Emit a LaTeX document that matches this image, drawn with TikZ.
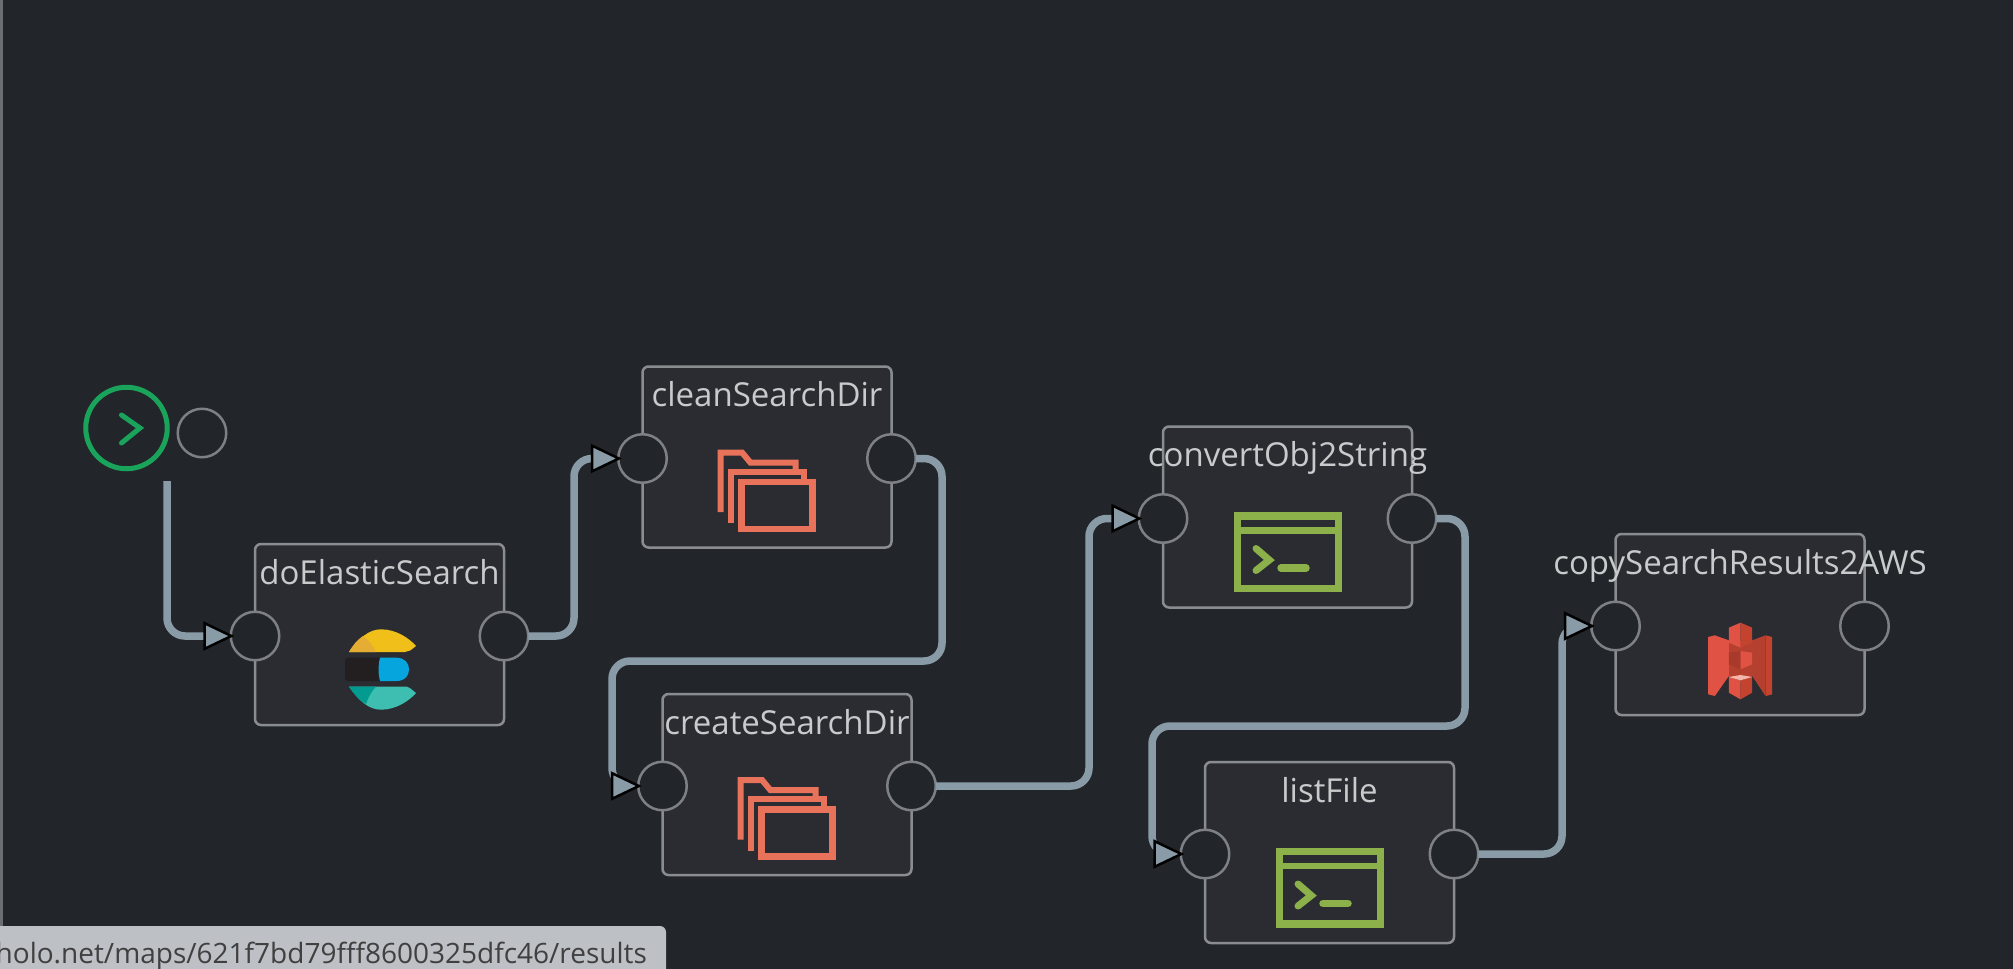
\documentclass[tikz,border=0pt]{standalone}
\usepackage{fontspec}
\setmainfont{Open Sans}
\usetikzlibrary{arrows.meta, positioning}
\definecolor{bgcol}{HTML}{22262A}
\definecolor{boxcol}{HTML}{2A2C32}
\definecolor{linecol}{HTML}{8A8D90}
\definecolor{portcol}{HTML}{7D8084}
\definecolor{wirecol}{HTML}{8A9BA8}
\definecolor{textcol}{HTML}{C8CBCC}
\definecolor{startcol}{HTML}{1AA35B}
\definecolor{foldercol}{HTML}{E8735A}
\definecolor{termcol}{HTML}{8CB04A}
\definecolor{barcol}{HTML}{BDC0C5}
\tikzset{
taskbox/.style={draw=linecol, fill=boxcol, line width=2.5pt, rounded corners=6pt, minimum width=249pt, minimum height=181pt, inner sep=0pt, outer sep=0pt}, % the big rectangles
tasklabel/.style={text=textcol, font=\fontsize{33}{36}\selectfont, text height=24pt, text depth=7pt, inner sep=0pt},
port/.style={circle, draw=portcol, fill=bgcol, line width=2.5pt, minimum size=48.5pt, inner sep=0pt, outer sep=0pt},
wire/.style={draw=wirecol, line width=7.5pt, rounded corners=18pt, shorten >=-3.5pt, -{Triangle[length=31pt, width=29pt, fill=wirecol, color=black, line width=2.5pt]}},
folderstack/.pic={
    \draw[foldercol, line width=6pt] (20,81) -- (20,21.7) -- (41.7,21.7) -- (50,31.7) -- (95,31.7) -- (95,39);
    \draw[foldercol, line width=6pt] (30,92) -- (30,40.7) -- (103,40.7) -- (103,48);
    \draw[foldercol, line width=6.5pt] (41,51) rectangle (112,98);
},
termwin/.pic={
    \draw[termcol, line width=7.5pt] (0,0) rectangle (101,72.5);
    \draw[termcol, line width=6.5pt] (0,14.3) -- (101,14.3);
    \draw[termcol, line width=7pt, line cap=round] (18.5,32.5) -- (31.8,44) -- (18.5,54.5);
    \draw[termcol, line width=7.5pt, line cap=round] (43.5,52) -- (68.5,52);
},
elasticlogo/.pic={
    \fill[HTML=F0BF1A] (28,41) .. controls (38,27) and (48,18.3) .. (60,18.3) .. controls (75,18.3) and (88,27) .. (95,35) .. controls (90,39) and (88,41) .. (84,41) -- cycle;
    \fill[HTML=E5AD33] (28,41) .. controls (32,34) and (36,29) .. (42,25) .. controls (48,29) and (52,35) .. (55,41) -- cycle;
    \fill[HTML=231F20, rounded corners=3pt] (24,46.7) rectangle (62,70);
    \fill[HTML=07A5DE] (59,46.7) -- (75,46.7) .. controls (84,46.7) and (88,52) .. (88,58.3) .. controls (88,65) and (84,70) .. (75,70) -- (59,70) .. controls (57,62) and (57,54) .. (59,46.7) -- cycle;
    \fill[HTML=3EBEB0] (28,75.5) -- (84,75.5) .. controls (88,75.5) and (90,78) .. (95,82) .. controls (88,90) and (75,98.7) .. (60,98.7) .. controls (48,98.7) and (38,90) .. (28,75.5) -- cycle;
    \fill[HTML=019B8F] (28,75.5) -- (55,75.5) .. controls (50,81) and (47,87) .. (45,93) .. controls (38,89) and (32,82) .. (28,75.5) -- cycle;
},
bucketlogo/.pic={
    \begin{scope}[scale=0.3333]
    \fill[HTML=E05243] (83,108) -- (103,103) -- (103,285) -- (83,280) -- cycle;
    \fill[HTML=E05243] (103,103) -- (145,118) -- (145,225) -- (103,285) -- cycle;
    \fill[HTML=C4432F] (275,108) -- (255,103) -- (255,285) -- (275,280) -- cycle;
    \fill[HTML=B5402F] (255,103) -- (215,118) -- (215,225) -- (255,285) -- cycle;
    \fill[HTML=B5402F] (145,120) -- (215,120) -- (215,230) -- (145,230) -- cycle;
    \fill[HTML=E05243] (145,80) -- (180,65) -- (180,140) -- (145,125) -- cycle;
    \fill[HTML=C4432F] (180,65) -- (215,80) -- (215,125) -- (180,140) -- cycle;
    \fill[HTML=A83A2B] (145,155) -- (180,150) -- (180,205) -- (145,190) -- cycle;
    \fill[HTML=E05243] (180,150) -- (215,155) -- (215,190) -- (180,205) -- cycle;
    \fill[HTML=E05243] (145,228) -- (180,238) -- (180,295) -- (145,275) -- cycle;
    \fill[HTML=C4432F] (215,228) -- (180,238) -- (180,295) -- (215,275) -- cycle;
    \fill[HTML=F5B5A8] (145,228) -- (180,222) -- (215,228) -- (180,238) -- cycle;
    \end{scope}
},
HTML/.code={\definecolor{logotmp}{HTML}{#1}\pgfkeysalso{color=logotmp}},
}
\begin{document}
\begin{tikzpicture}[x=1pt, y=-1pt]
    \useasboundingbox (0,0) rectangle (2013,969);
    \fill[bgcol] (0,0) rectangle (2013,969);
    \fill[portcol!80!bgcol] (0,0) rectangle (2.5,926);

    % start button and its output
    \node[circle, draw=startcol, fill=bgcol, line width=5pt, minimum size=81.5pt, inner sep=0pt] (startBtn) at (126.5,428) {};
    \draw[startcol, line width=5pt, line cap=round] ([xshift=-5pt,yshift=13pt]startBtn.center) -- ([xshift=13.5pt]startBtn.center) -- ([xshift=-5pt,yshift=-15pt]startBtn.center);
    \node[port] (startOut) at (202,433) {};
    \coordinate (startWire) at (167,481);

    % tasks
    \node[taskbox] (doBox) at (379.5,634.5) {};
    \node[taskbox] (cleanBox) at (767,457) {};
    \node[taskbox] (createBox) at (787,784.5) {};
    \node[taskbox] (convertBox) at (1287.5,517) {};
    \node[taskbox] (listBox) at (1329.5,852.5) {};
    \node[taskbox] (copyBox) at (1740,624.5) {};

    \node[tasklabel] (doLabel) at ([yshift=-31.5pt]doBox.north) {doElasticSearch};
    \node[tasklabel] (cleanLabel) at ([yshift=-31.5pt]cleanBox.north) {cleanSearchDir};
    \node[tasklabel] (createLabel) at ([yshift=-31.5pt]createBox.north) {createSearchDir};
    \node[tasklabel] (convertLabel) at ([yshift=-31.5pt]convertBox.north) {convertObj2String};
    \node[tasklabel] (listLabel) at ([yshift=-31.5pt]listBox.north) {listFile};
    \node[tasklabel] (copyLabel) at ([yshift=-31.5pt]copyBox.north) {copySearchResults2AWS};

    % ports
    \foreach \task in {do, clean, create, convert, list, copy} {
        \node[port] (\task In) at ([yshift=-1.5pt]\task Box.west) {};
        \node[port] (\task Out) at ([yshift=-1.5pt]\task Box.east) {};
    }

    % icons
    \pic at ([xshift=66pt,yshift=-67pt]doBox.north west) {elasticlogo};
    \pic at ([xshift=58pt,yshift=-64.5pt]cleanBox.north west) {folderstack};
    \pic at ([xshift=58pt,yshift=-64.5pt]createBox.north west) {folderstack};
    \pic at ([xshift=74.5pt,yshift=-89.5pt]convertBox.north west) {termwin};
    \pic at ([xshift=74.5pt,yshift=-89.5pt]listBox.north west) {termwin};
    \pic at ([xshift=65pt,yshift=-67pt]copyBox.north west) {bucketlogo};

    % wires
    \draw[wire] (startWire) |- (doIn.west);
    \draw[wire] (doOut.east) -- (574,636) |- (cleanIn.west);
    \draw[wire] (cleanOut.east) -- (942,458.5) -- (942,661) -- (612,661) |- (createIn.west);
    \draw[wire] (createOut.east) -- (1089,786) |- (convertIn.west);
    \draw[wire] (convertOut.east) -- (1465,518.5) -- (1465,726) -- (1152,726) |- (listIn.west);
    \draw[wire] (listOut.east) -- (1562,854) |- (copyIn.west);

    % url bar at the bottom
    \fill[barcol, rounded corners=6pt] (-10,980) -- (-10,926) -- (666,926) -- (666,980) -- cycle;
    \node[anchor=base east, inner sep=0pt, text=black!75, font=\fontsize{28}{32}\selectfont] (urlText) at (647,963) {holo.net/maps/621f7bd79fff8600325dfc46/results};
\end{tikzpicture}
\end{document}
